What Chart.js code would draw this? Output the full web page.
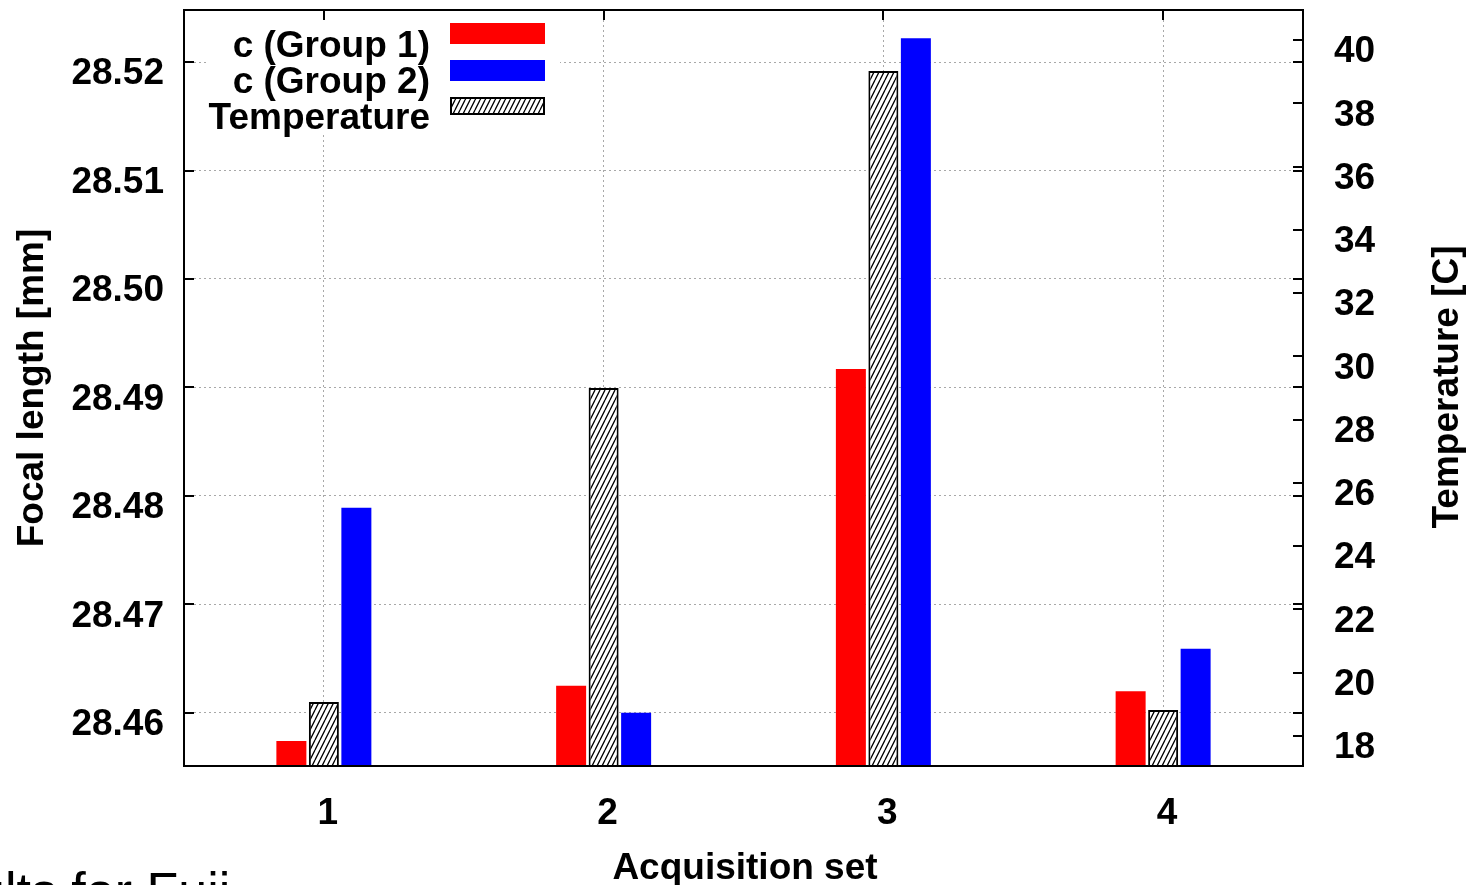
<!DOCTYPE html>
<html>
<head>
<meta charset="utf-8">
<script src="https://cdn.jsdelivr.net/npm/chart.js@4.4.1/dist/chart.umd.min.js"></script>
<style>
  html, body { margin: 0; padding: 0; background: #fff; overflow: hidden; width: 1471px; height: 885px; position: relative; }
  canvas { position: absolute; left: 0; top: 0; }
  #caption { position: absolute; left: -24px; top: 865px; font: 52px/1 "Liberation Sans", Arial, sans-serif; color: #000; white-space: nowrap; }
</style>
</head>
<body>
<canvas id="c" width="1471" height="885"></canvas>
<div id="caption">ults for Fuji</div>
<script>
// Acquisition sets on the x axis
const categories = ['1', '2', '3', '4'];
// Focal length c [mm] per group
const focalGroup1 = [28.4574, 28.4625, 28.4917, 28.4620];
const focalGroup2 = [28.4789, 28.4600, 28.5222, 28.4659];
// Temperature [C] during each acquisition
const temperature = [19.07, 29.0, 39.02, 18.82];
// Axis ticks
const focalTicks = [28.46, 28.47, 28.48, 28.49, 28.50, 28.51, 28.52];
const tempTicks = [18, 20, 22, 24, 26, 28, 30, 32, 34, 36, 38, 40];
const seriesLabels = ['c (Group 1)', 'c (Group 2)', 'Temperature'];

const FONT = "'Liberation Sans', Arial, sans-serif";

// Diagonal hatch used for the temperature bars
function makeHatch() {
  const t = document.createElement('canvas');
  t.width = 5; t.height = 10;
  const g = t.getContext('2d');
  g.fillStyle = '#fff';
  g.fillRect(0, 0, 5, 10);
  g.strokeStyle = '#000';
  g.lineWidth = 1.3;
  g.beginPath();
  for (const dx of [-5, 0, 5]) { g.moveTo(dx, 10); g.lineTo(dx + 5, 0); }
  g.stroke();
  return document.getElementById('c').getContext('2d').createPattern(t, 'repeat');
}
const hatch = makeHatch();

const CAT_PCT = 0.3485, BAR_PCT = 0.923;

const framePlugin = {
  id: 'frame',
  beforeDatasetsDraw(chart) {
    const { ctx, chartArea: a, scales } = chart;
    ctx.save();
    // opaque key box
    ctx.fillStyle = '#fff';
    ctx.fillRect(207, 17, 353, 116);
    // inward tick marks
    ctx.strokeStyle = '#000';
    ctx.lineWidth = 2;
    ctx.beginPath();
    const L = 10;
    scales.y.ticks.forEach(t => {
      const p = Math.round(scales.y.getPixelForValue(t.value));
      ctx.moveTo(a.left, p); ctx.lineTo(a.left + L, p);
      ctx.moveTo(a.right, p); ctx.lineTo(a.right - L, p);
    });
    scales.y2.ticks.forEach(t => {
      const p = Math.round(scales.y2.getPixelForValue(t.value));
      ctx.moveTo(a.right, p); ctx.lineTo(a.right - L, p);
    });
    scales.x.ticks.forEach((t, i) => {
      const p = Math.round(scales.x.getPixelForTick(i));
      ctx.moveTo(p, a.top); ctx.lineTo(p, a.top + L);
      ctx.moveTo(p, a.bottom); ctx.lineTo(p, a.bottom - L);
    });
    ctx.stroke();
    ctx.restore();
  },
  afterDatasetsDraw(chart) {
    const { ctx, chartArea: a } = chart;
    const ds = chart.data.datasets;
    ctx.save();
    // plot frame
    ctx.strokeStyle = '#000';
    ctx.lineWidth = 2;
    ctx.strokeRect(a.left, a.top, a.right - a.left, a.bottom - a.top);
    // key
    ctx.font = 'bold 37px ' + FONT;
    ctx.textAlign = 'right';
    ctx.textBaseline = 'alphabetic';
    const keyOrder = [0, 2, 1];
    const rows = [
      { base: 57, y: 23, h: 21 },
      { base: 93, y: 60, h: 21 },
      { base: 129, y: 97, h: 18 }
    ];
    keyOrder.forEach((di, r) => {
      const d = ds[di], row = rows[r];
      ctx.fillStyle = '#000';
      ctx.fillText(d.label, 430, row.base);
      ctx.fillStyle = d.backgroundColor;
      ctx.fillRect(450, row.y, 95, row.h);
      if (d.borderWidth) {
        ctx.strokeStyle = '#000';
        ctx.lineWidth = 2;
        ctx.strokeRect(451, row.y + 1, 93, row.h - 2);
      }
    });
    ctx.restore();
  },
  afterDraw(chart) {
    const { ctx } = chart;
    ctx.save();
    ctx.font = 'bold 37px ' + FONT;
    ctx.fillStyle = '#000';
    ctx.textAlign = 'center';
    ctx.textBaseline = 'alphabetic';
    ctx.fillText('Acquisition set', 745, 879);
    ctx.save();
    ctx.translate(43, 388);
    ctx.rotate(-Math.PI / 2);
    ctx.fillText('Focal length [mm]', 0, 0);
    ctx.restore();
    ctx.save();
    ctx.translate(1458, 387);
    ctx.rotate(-Math.PI / 2);
    ctx.fillText('Temperature [C]', 0, 0);
    ctx.restore();
    ctx.restore();
  }
};

const tickFont = { family: FONT, size: 37, weight: 'bold', lineHeight: 1.2 };
const dotted = { display: false, dash: [2, 3] };

function zeroPad(s) { s.paddingTop = 0; s.paddingBottom = 0; s.paddingLeft = 0; s.paddingRight = 0; }

new Chart(document.getElementById('c'), {
  type: 'bar',
  data: {
    labels: categories,
    datasets: [
      { label: seriesLabels[0], data: focalGroup1, yAxisID: 'y', backgroundColor: '#ff0000', borderWidth: 0,
        categoryPercentage: CAT_PCT, barPercentage: BAR_PCT },
      { label: seriesLabels[2], data: temperature, yAxisID: 'y2', backgroundColor: hatch, borderColor: '#000', borderWidth: 2,
        categoryPercentage: CAT_PCT, barPercentage: BAR_PCT },
      { label: seriesLabels[1], data: focalGroup2, yAxisID: 'y', backgroundColor: '#0000ff', borderWidth: 0,
        categoryPercentage: CAT_PCT, barPercentage: BAR_PCT }
    ]
  },
  options: {
    responsive: false,
    animation: false,
    devicePixelRatio: 1,
    layout: { padding: { top: 10, left: 0, right: 0, bottom: 0 } },
    plugins: { legend: { display: false }, tooltip: { enabled: false } },
    scales: {
      x: {
        type: 'category',
        offset: true,
        grid: { offset: false, drawTicks: false, color: '#a8a8a8', lineWidth: 1 },
        border: dotted,
        ticks: { font: tickFont, color: '#000', padding: 26, labelOffset: 4, maxRotation: 0, autoSkip: false },
        afterFit(s) { s.height = 119; zeroPad(s); }
      },
      y: {
        type: 'linear',
        position: 'left',
        min: 28.4551,
        max: 28.5248,
        grid: { drawTicks: false, color: '#a8a8a8', lineWidth: 1 },
        border: dotted,
        afterBuildTicks(s) { s.ticks = focalTicks.map(v => ({ value: v })); },
        ticks: { font: tickFont, color: '#000', padding: 20, labelOffset: 12, callback: v => Number(v).toFixed(2) },
        afterFit(s) { s.width = 184; zeroPad(s); }
      },
      y2: {
        type: 'linear',
        position: 'right',
        min: 17.05,
        max: 40.95,
        grid: { display: false, drawTicks: false },
        border: { display: false },
        afterBuildTicks(s) { s.ticks = tempTicks.map(v => ({ value: v })); },
        ticks: { font: tickFont, color: '#000', padding: 31, labelOffset: 12, callback: v => String(v) },
        afterFit(s) { s.width = 168; zeroPad(s); }
      }
    }
  },
  plugins: [framePlugin]
});
</script>
</body>
</html>
